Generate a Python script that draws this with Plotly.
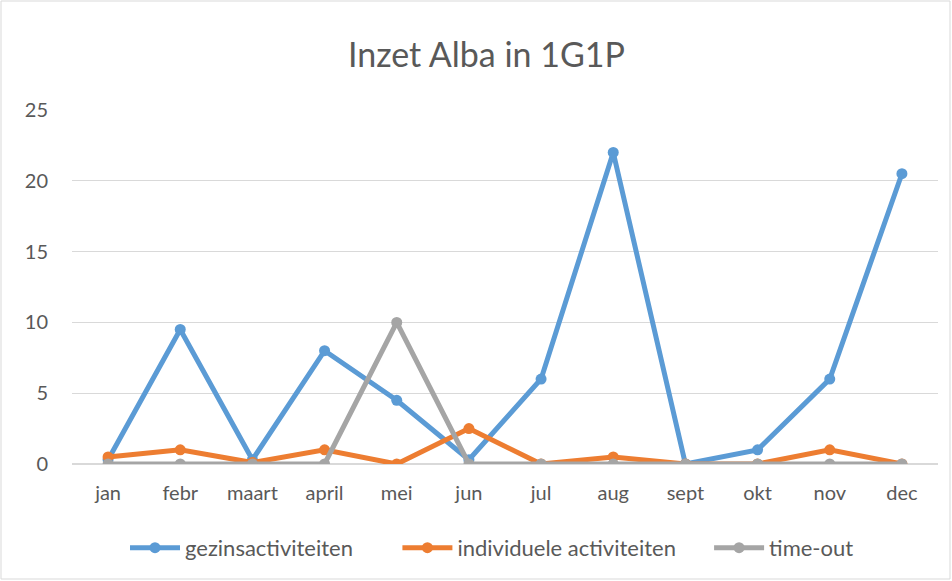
import plotly.graph_objects as go

months = ["jan", "febr", "maart", "april", "mei", "jun", "jul", "aug", "sept", "okt", "nov", "dec"]
gezin = [0.3, 9.5, 0.3, 8, 4.5, 0.3, 6, 22, 0, 1, 6, 20.5]
individueel = [0.5, 1, 0.1, 1, 0, 2.5, 0, 0.5, 0, 0, 1, 0]
timeout = [0, 0, 0, 0, 10, 0, 0, 0, 0, 0, 0, 0]
series_names = ["gezinsactiviteiten", "individuele activiteiten", "time-out"]

NB = "\u00a0"
series = [
    (series_names[0] + NB * 7, gezin, "#5B9BD5"),
    (series_names[1] + NB * 5, individueel, "#ED7D31"),
    (series_names[2], timeout, "#A5A5A5"),
]

fig = go.Figure()
for name, vals, col in series:
    fig.add_trace(go.Scatter(
        x=months, y=vals, name=name, mode="lines+markers",
        line=dict(color=col, width=5),
        marker=dict(color=col, size=11),
    ))

fig.update_layout(
    width=952, height=581,
    paper_bgcolor="white", plot_bgcolor="white",
    margin=dict(l=72, r=14, t=110, b=117),
    font=dict(family="Lato, Open Sans, sans-serif", color="#595959", size=20),
    title=dict(text="Inzet Alba in 1G1P", x=0.511, xanchor="center", y=0.905, yanchor="middle",
               font=dict(size=34, color="#595959")),
    xaxis=dict(type="category", range=[-0.5, 11.5], showgrid=False, showline=False,
               zeroline=False, ticks="", ticklabelstandoff=15, tickfont=dict(size=20, color="#595959")),
    yaxis=dict(range=[0, 25], dtick=5, showgrid=True, gridcolor="#D9D9D9", gridwidth=1,
               zeroline=True, zerolinecolor="#D9D9D9", showline=False, ticks="",
               ticklabelstandoff=23, tickfont=dict(size=20, color="#595959")),
    legend=dict(orientation="h", x=0.485, xanchor="center", y=-0.237, yanchor="middle",
                font=dict(size=22, color="#595959"), itemwidth=50, tracegroupgap=0),
    shapes=[dict(type="rect", xref="paper", yref="paper",
                 x0=(1 - 72) / 866, x1=(950 - 72) / 866,
                 y0=(464 - 579) / 354, y1=(464 - 1) / 354,
                 line=dict(color="#D9D9D9", width=1), fillcolor="rgba(0,0,0,0)", layer="below")],
)

fig.write_html("out.html", post_script="document.body.style.margin='0px';",
               config={"displayModeBar": False})
